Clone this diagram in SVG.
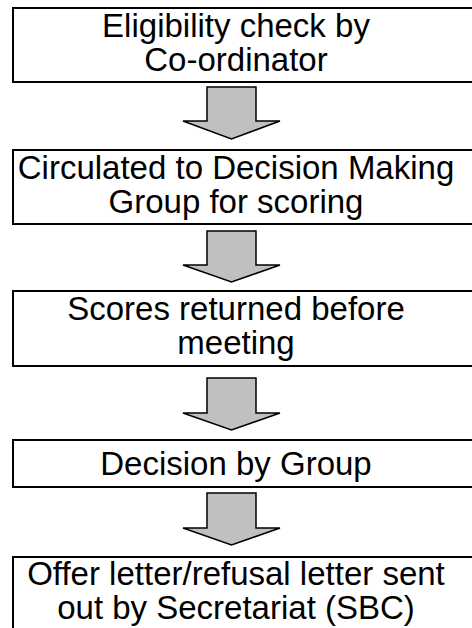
<svg xmlns="http://www.w3.org/2000/svg" width="472" height="628" viewBox="0 0 472 628">
<style>
.box{fill:#fff;stroke:#000;stroke-width:2}
.t{font-family:"Liberation Sans",Arial,sans-serif;font-size:33px;fill:#000;text-anchor:middle}
.arr{fill:#c0c0c0;stroke:#000;stroke-width:1.5;stroke-linejoin:miter}
</style>
<rect width="472" height="628" fill="#fff"/>
<g id="connectors">
<polygon class="arr" points="207,87 256,87 256,121 280,121 231.5,139 183,121 207,121"/>
<polygon class="arr" points="207,231 256,231 256,265 280,265 231.5,282 183,265 207,265"/>
<polygon class="arr" points="207,378 256,378 256,413 280,413 231.5,430 183,413 207,413"/>
<polygon class="arr" points="207,493 256,493 256,528 280,528 231.5,545 183,528 207,528"/>
</g>
<g id="n1"><rect class="box" x="13" y="8" width="470" height="74"/>
<text class="t" x="236" y="37">Eligibility check by</text><text class="t" x="236" y="71">Co-ordinator</text></g>
<g id="n2"><rect class="box" x="13" y="150" width="470" height="74"/>
<text class="t" x="236" y="179">Circulated to Decision Making</text><text class="t" x="236" y="213">Group for scoring</text></g>
<g id="n3"><rect class="box" x="13" y="291" width="470" height="75"/>
<text class="t" x="236" y="320">Scores returned before</text><text class="t" x="236" y="354">meeting</text></g>
<g id="n4"><rect class="box" x="13" y="440" width="470" height="47"/>
<text class="t" x="236" y="475">Decision by Group</text></g>
<g id="n5"><rect class="box" x="13" y="557" width="470" height="90"/>
<text class="t" x="236" y="585">Offer letter/refusal letter sent</text><text class="t" x="236" y="619">out by Secretariat (SBC)</text></g>
</svg>
